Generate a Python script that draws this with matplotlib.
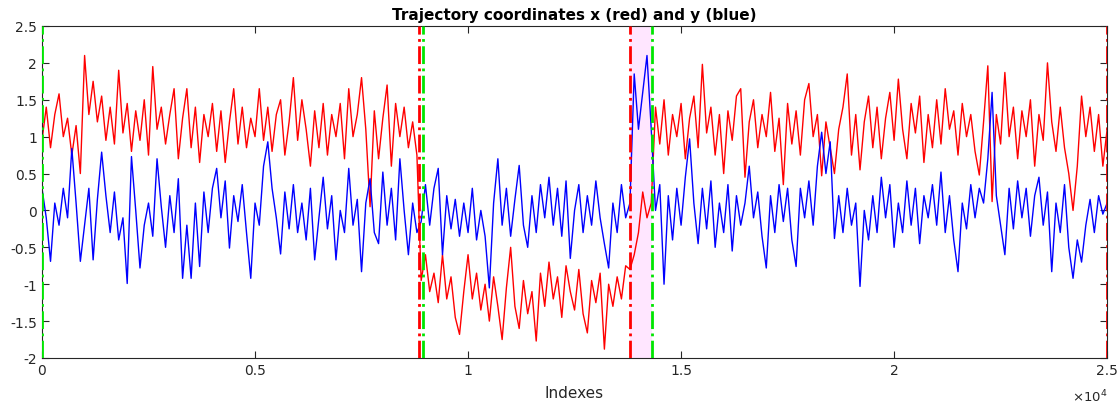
import numpy as np
import matplotlib
matplotlib.use("Agg")
import matplotlib.pyplot as plt

# trajectory coordinates, one value every 100 indexes
step = 100
x_coord = [
    0.95, 1.4, 0.85, 1.3, 1.58, 1.0, 1.25, 0.75, 1.15, 0.5,
    2.1, 1.3, 1.75, 1.2, 1.55, 0.95, 1.4, 0.9, 1.9, 1.05,
    1.45, 0.8, 1.35, 0.95, 1.5, 0.75, 1.95, 1.1, 1.4, 0.9,
    1.3, 1.65, 0.7, 1.25, 1.65, 0.85, 1.4, 0.65, 1.3, 1.0,
    1.45, 0.8, 1.35, 0.65, 1.2, 1.65, 0.9, 1.4, 0.85, 1.25,
    1.0, 1.65, 0.95, 1.4, 0.8, 1.3, 1.5, 0.75, 1.2, 1.8,
    0.95, 1.5, 1.1, 0.6, 1.35, 0.85, 1.45, 0.75, 1.3, 1.0,
    1.45, 0.7, 1.65, 1.0, 1.3, 1.8, 1.1, 0.05, 1.35, 0.7,
    1.25, 1.7, 0.6, 1.45, 1.0, 1.4, 0.85, 1.2, 0.75, -0.95,
    -0.6, -1.1, -0.85, -1.25, -0.6, -1.2, -0.9, -1.45, -1.68, -1.1,
    -0.6, -1.2, -0.85, -1.35, -1.0, -1.5, -0.9, -1.3, -1.75, -1.05,
    -0.5, -1.3, -1.6, -0.95, -1.4, -1.1, -1.77, -0.85, -1.3, -0.7,
    -1.2, -0.9, -1.45, -0.75, -1.1, -1.35, -0.8, -1.4, -1.66, -0.95,
    -1.25, -0.85, -1.88, -1.0, -1.3, -0.9, -1.2, -0.75, -0.8, -0.6,
    -0.3, 0.25, -0.1, 0.1, 1.4, 0.9, 1.5, 0.75, 1.3, 1.0,
    1.45, 0.7, 1.25, 1.55, 0.85, 1.98, 1.05, 1.4, 0.75, 1.3,
    0.5, 1.35, 0.95, 1.55, 1.65, 0.45, 1.2, 1.5, 0.85, 1.3,
    1.0, 1.6, 0.8, 1.25, 0.35, 1.45, 0.9, 1.35, 0.75, 1.5,
    1.72, 1.0, 1.3, 0.47, 1.2, 0.85, 0.5, 1.1, 1.4, 1.85,
    0.75, 1.3, 0.55, 1.2, 1.55, 0.85, 1.4, 0.7, 1.25, 1.6,
    0.95, 1.78, 1.1, 0.7, 1.45, 1.05, 1.55, 0.65, 1.3, 0.85,
    1.5, 0.9, 1.65, 1.1, 1.35, 0.75, 1.45, 1.0, 1.3, 0.8,
    0.48, 1.2, 1.96, 0.12, 1.3, 0.9, 1.87, 1.0, 1.4, 0.7,
    1.35, 1.0, 1.5, 0.6, 1.3, 0.95, 2.0, 1.2, 0.8, 1.4,
    0.85, 0.5, 0.0, 0.6, 1.55, 1.0, 1.4, 0.8, 1.3, 0.6,
    1.1,
]
y_coord = [
    0.3, -0.1, -0.69, 0.1, -0.2, 0.3, -0.1, 0.84, 0.1, -0.69,
    -0.2, 0.3, -0.67, 0.15, 0.79, 0.2, -0.3, 0.25, -0.4, -0.1,
    -0.99, 0.73, 0.0, -0.78, -0.2, 0.1, -0.35, 0.7, 0.05, -0.5,
    0.2, -0.3, 0.43, -0.92, -0.2, -0.92, 0.1, -0.76, 0.25, -0.3,
    0.3, 0.57, -0.1, 0.4, -0.51, 0.2, -0.15, 0.35, -0.3, -0.92,
    0.1, -0.2, 0.6, 0.93, 0.3, -0.1, -0.59, 0.25, -0.25, 0.35,
    -0.3, 0.1, -0.4, 0.3, -0.67, -0.1, 0.45, -0.25, 0.2, -0.67,
    0.0, -0.3, 0.57, -0.2, 0.15, -0.83, 0.1, 0.43, -0.3, -0.45,
    0.52, -0.2, 0.3, -0.4, 0.7, 0.0, -0.6, 0.1, -0.3, -0.15,
    0.35, -0.2, 0.3, 0.57, -0.6, 0.2, -0.25, 0.15, -0.35, 0.1,
    -0.3, 0.3, -0.4, 0.0, -0.35, -1.05, 0.1, 0.7, -0.2, 0.3,
    -0.35, 0.15, 0.61, -0.2, -0.5, 0.2, -0.3, 0.35, -0.1, 0.45,
    -0.2, 0.3, -0.35, 0.4, -0.65, 0.0, 0.35, -0.3, 0.2, -0.2,
    0.4, -0.1, -0.45, -0.78, 0.1, -0.3, 0.35, -0.1, 0.1, 1.85,
    1.1, 1.6, 2.1, 1.1, 0.0, 0.35, -1.0, 0.2, -0.4, 0.3,
    -0.2, 0.45, 0.97, 0.1, -0.45, 0.3, -0.25, 0.4, -0.5, 0.1,
    -0.3, 0.35, -0.55, 0.2, -0.2, 0.1, 0.6, -0.1, 0.25, -0.35,
    -0.78, 0.2, -0.3, 0.35, -0.15, 0.3, -0.4, -0.76, 0.3, -0.1,
    0.4, -0.2, 0.6, 1.06, 0.5, 0.93, -0.38, 0.2, -0.3, 0.3,
    -0.2, 0.1, -1.03, 0.0, -0.4, 0.2, -0.3, 0.45, -0.1, 0.35,
    -0.5, 0.1, -0.3, 0.4, -0.2, 0.3, -0.45, 0.2, -0.1, 0.35,
    -0.2, 0.52, -0.3, 0.2, -0.4, -0.83, 0.1, -0.25, 0.35, -0.1,
    0.3, 0.1, 0.7, 1.6, 0.2, -0.2, -0.6, 0.3, -0.25, 0.4,
    -0.1, 0.3, -0.35, 0.2, 0.45, -0.2, 0.25, -0.83, 0.1, -0.3,
    0.35, -0.5, -0.92, -0.4, -0.7, -0.2, 0.15, -0.3, 0.2, -0.05,
    0.1,
]

# segment boundaries: start (green) and end (red) markers
starts = [0, 8936, 14310]
ends = [8842, 13802, 25000]
shaded = (13802, 14310)

tick_vals = [0, 5000, 10000, 15000, 20000, 25000]
tick_labels = ["0", "0.5", "1", "1.5", "2", "2.5"]
ytick_vals = [-2, -1.5, -1, -0.5, 0, 0.5, 1, 1.5, 2, 2.5]
ytick_labels = ["-2", "-1.5", "-1", "-0.5", "0", "0.5", "1", "1.5", "2", "2.5"]

grey = (0.15, 0.15, 0.15)

fig = plt.figure(figsize=(11.2, 4.1), dpi=100)
ax = fig.add_axes([0.0375, 0.1244, 0.951, 0.8098])

ax.axvspan(shaded[0], shaded[1], color=(1.0, 0.9, 1.0), lw=0, zorder=0)

ix = np.arange(len(x_coord)) * step
iy = np.arange(len(y_coord)) * step
ax.plot(ix, x_coord, color="red", lw=1.0, zorder=2)
ax.plot(iy, y_coord, color="blue", lw=1.0, zorder=2)

for s in starts:
    ax.axvline(s, color=(0, 0.9, 0), ls="-.", lw=2, zorder=3)
for e in ends:
    ax.axvline(e, color="red", ls="-.", lw=2, zorder=3)

ax.set_xlim(0, 25000)
ax.set_ylim(-2, 2.5)
ax.set_xticks(tick_vals)
ax.set_xticklabels(tick_labels)
ax.set_yticks(ytick_vals)
ax.set_yticklabels(ytick_labels)
ax.tick_params(direction="in", length=5, width=0.8, top=True, right=True,
               colors=grey, labelsize=10, labelcolor=grey)
for sp in ax.spines.values():
    sp.set_color(grey)
    sp.set_linewidth(0.8)

ax.set_title("Trajectory coordinates x (red) and y (blue)", fontsize=11,
             fontweight="bold", pad=5)
ax.set_xlabel("Indexes", fontsize=11, color=grey, labelpad=6)
ax.text(1.0, -0.13, r"$\times10^{4}$", transform=ax.transAxes, ha="right",
        va="baseline", fontsize=9.5, color=grey)

fig.savefig("out.png", dpi=100)
